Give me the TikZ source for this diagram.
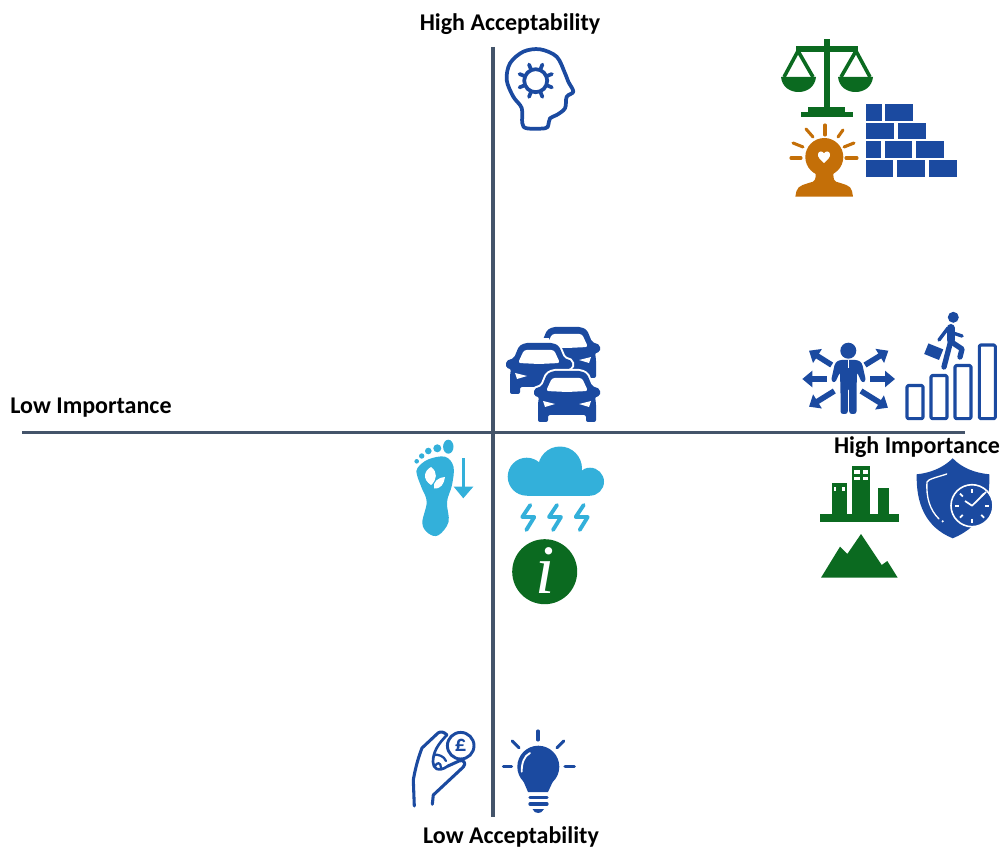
\documentclass[tikz,border=0pt]{standalone}
\usepackage{fontspec}
\setmainfont{Carlito}
\newfontfamily\markfont{Liberation Serif}
\usetikzlibrary{arrows.meta}
\definecolor{axisgrey}{HTML}{44546A}
\definecolor{iconblue}{HTML}{1B4AA0}
\definecolor{icongreen}{HTML}{0B6A20}
\definecolor{iconorange}{HTML}{C46F08}
\definecolor{iconcyan}{HTML}{33B0DA}
\tikzset{axisline/.style = {draw = axisgrey, line width = 2.3pt}}
\tikzset{axislabel/.style = {font = \fontsize{18}{20}\selectfont\bfseries, inner sep = 0}}
\tikzset{blueline/.style = {draw = iconblue, line width = 2.8pt, line cap = round, line join = round}}
\tikzset{rayline/.style = {line width = 2.3pt, line cap = round}}
\tikzset{brick/.style = {fill = iconblue}}
\tikzset{spread/.style = {draw = iconblue, line width = 4.2pt, -{Triangle[length = 7.5pt, width = 12pt]}}}
\newcommand{\caricon}[2]{%
  \begin{scope}[shift = {(#1, #2)}]
    \fill [iconblue, rounded corners = 1.5pt, preaction = {draw = white, line width = 3pt}]
      (19, 0) -- (47, 0) -- (53, 3) -- (58, 15) -- (66, 18) -- (66, 25) -- (61, 26) -- (62, 32) -- (62, 51)
      -- (52, 51) -- (52, 44) -- (14, 44) -- (14, 51) -- (4, 51) -- (4, 32) -- (5, 26) -- (0, 25) -- (0, 18)
      -- (8, 15) -- (13, 3) -- cycle;
    \fill [white, rounded corners = 2pt] (18, 7) -- (48, 7) -- (54, 20) -- (33, 21) -- (12, 20) -- cycle;
    \fill [white] (9, 30) -- (21, 33) -- (11, 36) -- cycle;
    \fill [white] (57, 30) -- (45, 33) -- (55, 36) -- cycle;
  \end{scope}}
\newcommand{\boltline}[1]{%
  \draw [draw = iconcyan, line width = 2.9pt, line join = round, line cap = round, shift = {(#1, 0)}]
    (2, 505) -- (-6, 517) -- (6, 517) -- (-2, 530);}

\begin{document}
\begin{tikzpicture}[x = 0.75pt, y = -0.75pt]
  \useasboundingbox (0, 0) rectangle (1003, 848);

  % axes
  \coordinate (axistop) at (493, 47);
  \coordinate (axisbottom) at (493, 817);
  \coordinate (axisleft) at (22, 432.5);
  \coordinate (axisright) at (965, 432.5);
  \draw [axisline] (axistop) -- (axisbottom);
  \draw [axisline] (axisleft) -- (axisright);

  \node [axislabel] (hiaccept) at (510, 24.5) {High Acceptability};
  \node [axislabel] (loaccept) at (511, 836.5) {Low Acceptability};
  \node [axislabel] (loimport) at (91, 407.5) {Low Importance};
  \node [axislabel] (hiimport) at (917, 447.5) {High Importance};

  % head with gear
  \draw [blueline] plot [smooth cycle, tension = 0.55] coordinates {
    (521.7, 108) (513.3, 96.7) (506.7, 80) (510, 63.3) (523.3, 51.7) (540, 49.3) (556.7, 56.7)
    (565, 73.3) (568.3, 81.7) (573.3, 91.7) (566.7, 96.7) (565, 108.3) (556.7, 115) (550, 118.3)
    (548.3, 125) (545, 128.3) (526.7, 128.3) (522.3, 123.3)};
  \draw [blueline] (535.7, 80.7) circle [radius = 11.5];
  \foreach \a in {0, 45, ..., 315}
    \draw [blueline] (535.7, 80.7) ++(\a + 22.5 : 11.5) -- ++(\a + 22.5 : 6);

  % scales
  \fill [icongreen] (823.5, 39) rectangle (829.5, 110);
  \fill [icongreen] (796, 46) rectangle (858, 52);
  \fill [icongreen] (808, 107) rectangle (845, 112);
  \fill [icongreen] (801, 112) rectangle (853, 117);
  \draw [draw = icongreen, line width = 2.7pt, line join = round] (784, 77) -- (798, 51) -- (813, 77);
  \draw [draw = icongreen, line width = 2.7pt, line join = round] (841, 77) -- (856, 51) -- (870, 77);
  \fill [icongreen] (781, 77) -- (816, 77) .. controls (815, 87) and (807, 92) .. (798.5, 92)
    .. controls (790, 92) and (782, 87) .. cycle;
  \fill [icongreen] (838, 77) -- (873, 77) .. controls (872, 87) and (864, 92) .. (855.5, 92)
    .. controls (847, 92) and (839, 87) .. cycle;

  % wall
  \fill [brick] (866, 104) rectangle (882, 121.5);
  \fill [brick] (885, 104) rectangle (913, 121.5);
  \fill [brick] (866, 123) rectangle (894, 139.5);
  \fill [brick] (898, 123) rectangle (926, 139.5);
  \fill [brick] (866, 141) rectangle (881, 158.5);
  \fill [brick] (885, 141) rectangle (912, 158.5);
  \fill [brick] (916, 141) rectangle (944, 158.5);
  \fill [brick] (866, 160) rectangle (893, 177);
  \fill [brick] (897, 160) rectangle (925, 177);
  \fill [brick] (929, 160) rectangle (957, 177);

  % person with heart
  \fill [iconorange] (824.3, 157) circle [radius = 19];
  \fill [iconorange] (795.3, 196.7) -- (796.5, 191) .. controls (798, 185) and (806, 184) .. (813, 181.7)
    .. controls (816, 180) and (816, 176) .. (815, 170) -- (834, 170)
    .. controls (833, 176) and (833, 180) .. (836, 181.7) .. controls (843, 184) and (851, 185) .. (852, 191)
    -- (853, 196.7) -- cycle;
  \fill [white] (824, 163) .. controls (820, 159.5) and (817.5, 157) .. (818, 154)
    .. controls (818.5, 151) and (822.5, 150.5) .. (824, 153.5)
    .. controls (825.5, 150.5) and (829.5, 151) .. (830, 154)
    .. controls (830.5, 157) and (828, 159.5) .. cycle;
  \foreach \xa/\ya/\xb/\yb in {825/125/825/135, 806/129/813/137, 843/130/838/137, 793/143/803/147,
                              854/143/844/147, 791/158/801/158, 846/158/857/158}
    \draw [rayline, draw = iconorange] (\xa, \ya) -- (\xb, \yb);

  % cars
  \caricon{534}{327}
  \fill [white] (530, 338.5) rectangle (549, 352);
  \caricon{506}{343}
  \caricon{534}{371}

  % man with arrows
  \fill [iconblue] (848.3, 350.7) circle [radius = 8];
  \fill [iconblue, rounded corners = 2pt] (839, 360) -- (858, 360) -- (862, 363) -- (866, 381) -- (862, 383)
    -- (857, 372) -- (856.5, 392) -- (856.5, 414) -- (849.2, 414) -- (849.2, 388) -- (847.8, 388) -- (847.8, 414)
    -- (840.5, 414) -- (840.5, 392) -- (840, 372) -- (835, 383) -- (831, 381) -- (835, 363) -- cycle;
  \draw [draw = white, line width = 0.8pt] (848.5, 360) -- (848.5, 368);
  \draw [spread] (831.7, 365) -- (809, 350.7);
  \draw [spread] (826.7, 379) -- (802.3, 379);
  \draw [spread] (834.3, 391) -- (809, 406.7);
  \draw [spread] (865, 365) -- (888.3, 350.7);
  \draw [spread] (870, 379) -- (895, 379);
  \draw [spread] (861, 391) -- (888, 407.7);

  % walker and bars
  \draw [blueline, line width = 2.3pt, rounded corners = 1pt] (907, 385.5) rectangle (923, 418.7);
  \draw [blueline, line width = 2.3pt, rounded corners = 1pt] (931, 375.5) rectangle (947, 418.7);
  \draw [blueline, line width = 2.3pt, rounded corners = 1pt] (955, 365.5) rectangle (971, 418.7);
  \draw [blueline, line width = 2.3pt, rounded corners = 1pt] (979.3, 345) rectangle (995.3, 418.7);
  \fill [iconblue] (953.3, 317.3) circle [radius = 5.5];
  \draw [draw = iconblue, line width = 6pt, line cap = round, line join = round] (950.5, 328) -- (950.5, 340);
  \draw [draw = iconblue, line width = 4pt, line cap = round, line join = round] (951, 340) -- (944, 367);
  \draw [draw = iconblue, line width = 4pt, line cap = round, line join = round] (953, 343) -- (962, 349) -- (960, 357);
  \draw [draw = iconblue, line width = 2.6pt, line cap = round, line join = round] (948, 328) -- (939, 340);
  \draw [draw = iconblue, line width = 2.6pt, line cap = round, line join = round] (953, 333) -- (962, 336);
  \fill [iconblue, rotate around = {-22 : (933.7, 351.7)}] (925.7, 346) rectangle (941.7, 357.4);

  % skyline
  \fill [icongreen] (820, 514) rectangle (899, 521.7);
  \fill [icongreen] (831.7, 482.7) rectangle (846.7, 514);
  \fill [icongreen] (851.7, 466) rectangle (870.3, 514);
  \fill [icongreen] (877.7, 488) rectangle (889, 514);
  \foreach \xa/\ya in {854/470, 862.7/470, 854/476.7, 862.7/476.7}
    \fill [white] (\xa, \ya) rectangle ++(5.5, 3.7);
  \fill [white] (834, 486.7) rectangle ++(2, 4.3);
  \fill [white] (841.7, 486.7) rectangle ++(3.3, 4.3);

  % mountains
  \fill [icongreen, line join = round] (821, 577.7) -- (840, 546.7) -- (847.3, 554) -- (861, 534)
    -- (881.7, 565) -- (887.3, 561) -- (897.7, 577.7) -- cycle;

  % shield and clock
  \fill [iconblue] (952.7, 458.3) .. controls (962, 468) and (975, 473) .. (989.3, 474.3)
    .. controls (990, 500) and (985, 525) .. (952.7, 538.3)
    .. controls (925, 527) and (916, 503) .. (916.7, 474.3)
    .. controls (930, 473) and (943, 468) .. cycle;
  \draw [draw = white, line width = 1pt, line cap = round] (946.7, 474) .. controls (938, 477) and (928, 479) .. (927, 482)
    .. controls (926, 498) and (930, 510) .. (939, 519);
  \fill [white] (942.7, 521.3) circle [radius = 1.2];
  \filldraw [fill = iconblue, draw = white, line width = 1.2pt] (972, 505.7) circle [radius = 21];
  \foreach \a in {0, 45, ..., 315}
    \draw [draw = white, line width = 1.3pt] (972, 505.7) ++(\a : 13) -- ++(\a : 4);
  \draw [draw = white, line width = 1.3pt, line join = round] (965, 501) -- (972, 505.7) -- (986, 492);

  % footprint
  \fill [iconcyan] (448.3, 446.7) ellipse [x radius = 5.2, y radius = 7];
  \fill [iconcyan] (437.3, 448.3) circle [radius = 4];
  \fill [iconcyan] (428.3, 451) circle [radius = 3.3];
  \fill [iconcyan] (421.7, 456) circle [radius = 2.7];
  \fill [iconcyan] (416.7, 461.3) circle [radius = 2.3];
  \fill [iconcyan] plot [smooth cycle, tension = 0.6] coordinates {
    (417.5, 468) (428, 459.5) (445, 456.7) (453.5, 466.7) (452, 485) (447, 502) (448.5, 522)
    (438.3, 535.3) (428.3, 533.3) (422.3, 523) (426.7, 502) (421.7, 488) (417, 475)};
  \fill [white] (431, 467) .. controls (424, 471) and (422, 479) .. (431, 485)
    .. controls (437, 480) and (438, 472) .. cycle;
  \fill [white] (445, 477) .. controls (439, 477) and (432, 482) .. (434, 488.5)
    .. controls (441, 489) and (444, 484) .. cycle;
  \draw [draw = iconcyan, line width = 2.4pt] (463.3, 458.3) -- (463.3, 490);
  \fill [iconcyan] (453.7, 486.7) -- (473.3, 486.7) -- (463.3, 498.3) -- cycle;

  % cloud
  \fill [iconcyan] (526.7, 476.7) circle [radius = 19];
  \fill [iconcyan] (560, 468.5) circle [radius = 22];
  \fill [iconcyan] (590, 481.7) circle [radius = 14];
  \fill [iconcyan] (526.7, 476) rectangle (590, 495.7);
  \boltline{528.3}
  \boltline{555}
  \boltline{581.7}

  % info
  \fill [icongreen] (544.7, 571.7) circle [radius = 32.5];
  \node [text = white, inner sep = 0, font = \fontsize{52}{52}\selectfont\markfont\itshape] (infomark) at (545, 571) {i};

  % hand and coin
  \draw [blueline, line width = 2.2pt] (460.7, 745.7) circle [radius = 13.3];
  \node [text = iconblue, inner sep = 0, font = \fontsize{17}{17}\selectfont\bfseries] (poundmark) at (460.7, 745.5) {£};
  \draw [blueline, line width = 2.3pt] (414.3, 806) -- (413.3, 780) .. controls (415, 770) and (418, 758) .. (422, 748)
    -- (438, 733) .. controls (441, 731) and (444, 732) .. (447, 735);
  \draw [blueline, line width = 2.3pt] (432.3, 804.3) -- (433.3, 795) -- (463.3, 767)
    .. controls (467, 763) and (463, 759) .. (459, 761) -- (448, 766);
  \draw [blueline, line width = 2pt] (447, 735) .. controls (438, 744) and (433, 752) .. (433, 762)
    .. controls (433, 768) and (438, 773) .. (448, 766);
  \draw [blueline, line width = 1.7pt] (434, 755) .. controls (438, 754) and (444, 756) .. (446, 761);
  \draw [blueline, line width = 1.7pt] (435, 766) .. controls (437, 762) and (441, 762) .. (441, 768);

  % bulb
  \fill [iconblue] (538.3, 766.7) circle [radius = 21];
  \fill [iconblue] (522, 778) -- (554.5, 778) -- (548, 792) -- (528, 792) -- cycle;
  \draw [draw = white, line width = 1.4pt, line cap = round] (521.7, 771.7) .. controls (521.7, 763) and (524, 756) .. (530, 753);
  \foreach \ya in {797.5, 804}
    \draw [draw = iconblue, line width = 2.5pt, line cap = round] (530, \ya) -- (547, \ya);
  \fill [iconblue] (532.5, 809) -- (544, 809) .. controls (543, 812) and (540, 813) .. (538.3, 813)
    .. controls (536, 813) and (533.5, 812) .. cycle;
  \foreach \xa/\ya/\xb/\yb in {538/731/538/740, 512.3/741/519/747.7, 563.7/741/557/747.7,
                              503.3/766.3/511.7/766.3, 565/766.3/574.3/766.3}
    \draw [rayline, draw = iconblue] (\xa, \ya) -- (\xb, \yb);
\end{tikzpicture}
\end{document}
